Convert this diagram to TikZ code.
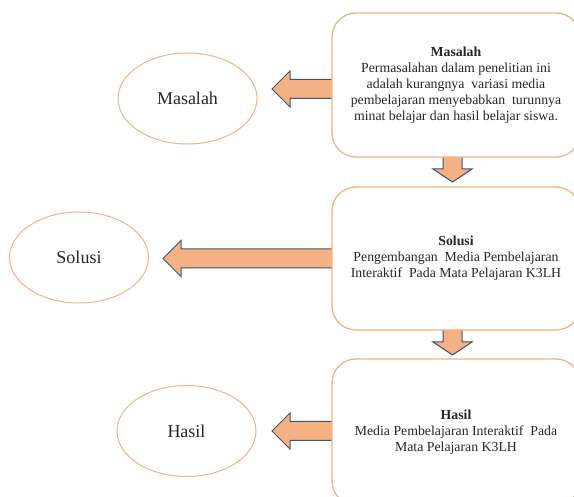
\documentclass[tikz,border=0pt]{standalone}
\usepackage{fontspec}
\setmainfont{Liberation Serif}
\usetikzlibrary{calc,shapes.geometric,backgrounds}
\definecolor{boxline}{HTML}{F4B183}
\definecolor{arrfill}{HTML}{F4B183}
\definecolor{arrline}{HTML}{44546A}
\definecolor{txt}{HTML}{262626}
\begin{document}
\begin{tikzpicture}[x=1pt,y=-1pt,
  stepbox/.style={draw=boxline, line width=1.3pt, rounded corners=24pt, fill=white,
    align=center, text=txt, inner sep=0pt, minimum width=248pt,
    font=\fontsize{13.8}{16}\selectfont},
  oval/.style={ellipse, draw=boxline, line width=1pt, minimum width=139pt,
    minimum height=91pt, inner sep=0pt, text=txt, font=\fontsize{18}{20}\selectfont},
  fatarrow/.style={fill=arrfill, draw=arrline, line width=1pt, line join=miter}]
\useasboundingbox (0,0) rectangle (574,497);
\clip (0,0) rectangle (574,497);

% boxes
\node[stepbox, minimum height=144pt] (b1) at (456,85)
  {\textbf{Masalah}\\Permasalahan dalam penelitian ini\\adalah kurangnya\ \ variasi media\\pembelajaran menyebabkan\ \ turunnya\\minat belajar dan hasil belajar siswa.};
\node[stepbox, minimum height=143pt] (b2) at (456,258.5)
  {\textbf{Solusi}\\Pengembangan\ \ Media Pembelajaran\\Interaktif\ \ Pada Mata Pelajaran K3LH};
\node[stepbox, minimum height=146pt] (b3) at (456,432)
  {\textbf{Hasil}\\Media Pembelajaran Interaktif\ \ Pada\\Mata Pelajaran K3LH};

% ellipses
\node[oval] (e1) at (187.5,98.5) {Masalah};
\node[oval] (e2) at (79,257.5) {Solusi};
\node[oval] (e3) at (186.5,431) {Hasil};

% arrow tips
\coordinate (t1) at (272,89);
\coordinate (t2) at (163,258.5);
\coordinate (t3) at (272,431);
\coordinate (d1) at (452.5,182);
\coordinate (d2) at (452.5,355);

\begin{scope}[on background layer]
  \fill[white] (0,0) rectangle (574,497);
  \foreach \t/\b in {t1/b1, t2/b2, t3/b3}{
    \draw[fatarrow] (\t) -- ++(18,-18) -- ++(0,8.5)
      -- ($(\b.west |- \t)+(5,-9.5)$) -- ++(0,19)
      -- ($(\t)+(18,9.5)$) -- ++(0,8.5) -- cycle;
  }
  \foreach \d/\b in {d1/b1, d2/b2}{
    \draw[fatarrow] (\d) -- ++(-19.5,-13) -- ++(10,0)
      -- ($(\b.south -| \d)+(-9.5,-5)$) -- ++(19,0)
      -- ($(\d)+(9.5,-13)$) -- ++(10,0) -- cycle;
  }
\end{scope}
\end{tikzpicture}
\end{document}
